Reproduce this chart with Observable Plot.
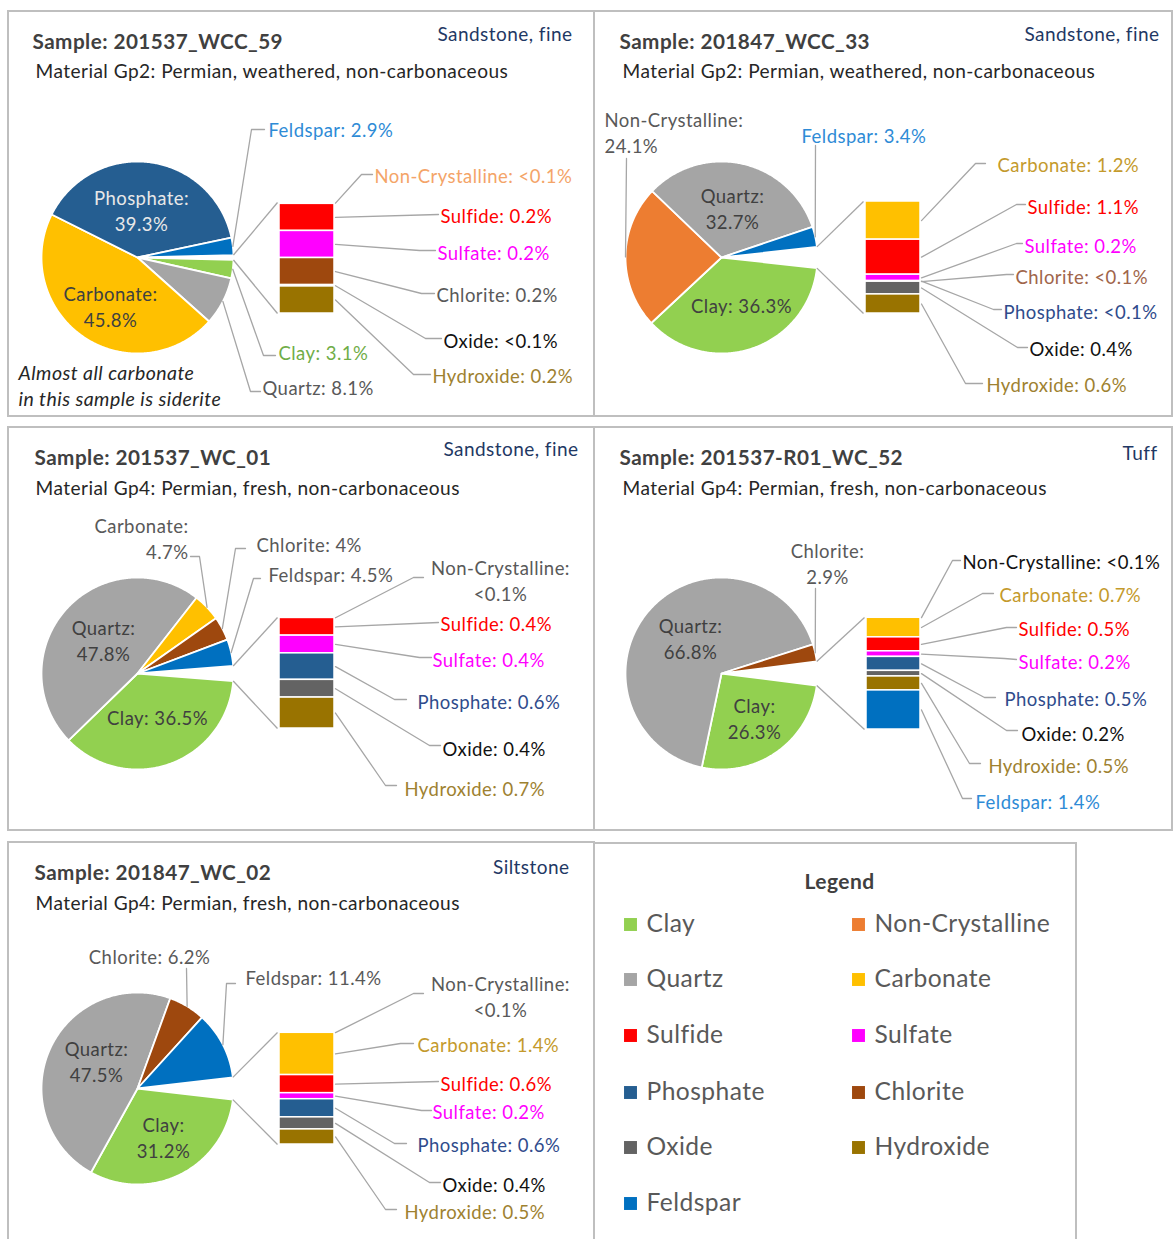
<!DOCTYPE html>
<html><head><meta charset="utf-8">
<script src="https://cdn.jsdelivr.net/npm/d3@7"></script>
<script src="https://cdn.jsdelivr.net/npm/@observablehq/plot@0.6"></script>
<style>
html,body{margin:0;padding:0;background:#fff;}
#chart{width:1173px;height:1239px;overflow:hidden;}
#chart svg text{letter-spacing:0.45px;}
</style></head><body><div id="chart"></div>
<script>
// ---------------- DATA ----------------
const minerals = ["Clay","Non-Crystalline","Quartz","Carbonate","Sulfide","Sulfate","Phosphate","Chlorite","Oxide","Hydroxide","Feldspar"];
const mineralColors = ["#92D050","#ED7D31","#A5A5A5","#FFC000","#FF0000","#FF00FF","#255E91","#9E480E","#636363","#997300","#0070C0"];

const sampleIds = ["201537_WCC_59","201847_WCC_33","201537_WC_01","201537-R01_WC_52","201847_WC_02"];
const materialGroups = [
  "Material Gp2: Permian, weathered, non-carbonaceous",
  "Material Gp2: Permian, weathered, non-carbonaceous",
  "Material Gp4: Permian, fresh, non-carbonaceous",
  "Material Gp4: Permian, fresh, non-carbonaceous",
  "Material Gp4: Permian, fresh, non-carbonaceous"];
const lithologies = ["Sandstone, fine","Sandstone, fine","Sandstone, fine","Tuff","Siltstone"];

// percentages in mineral order ("<0.1%" read as 0.01)
const pct1 = [3.1, 0.01, 8.1, 45.8, 0.2, 0.2, 39.3, 0.2, 0.01, 0.2, 2.9];
const pct2 = [36.3, 24.1, 32.7, 1.2, 1.1, 0.2, 0.01, 0.01, 0.4, 0.6, 3.4];
const pct3 = [36.5, 0.01, 47.8, 4.7, 0.4, 0.4, 0.6, 4.0, 0.4, 0.7, 4.5];
const pct4 = [26.3, 0.01, 66.8, 0.7, 0.5, 0.2, 0.5, 2.9, 0.2, 0.5, 1.4];
const pct5 = [31.2, 0.01, 47.5, 1.4, 0.6, 0.2, 0.6, 6.2, 0.4, 0.5, 11.4];
// printed value labels
const lab1 = ["3.1%","<0.1%","8.1%","45.8%","0.2%","0.2%","39.3%","0.2%","<0.1%","0.2%","2.9%"];
const lab2 = ["36.3%","24.1%","32.7%","1.2%","1.1%","0.2%","<0.1%","<0.1%","0.4%","0.6%","3.4%"];
const lab3 = ["36.5%","<0.1%","47.8%","4.7%","0.4%","0.4%","0.6%","4%","0.4%","0.7%","4.5%"];
const lab4 = ["26.3%","<0.1%","66.8%","0.7%","0.5%","0.2%","0.5%","2.9%","0.2%","0.5%","1.4%"];
const lab5 = ["31.2%","<0.1%","47.5%","1.4%","0.6%","0.2%","0.6%","6.2%","0.4%","0.5%","11.4%"];
// 1 = mineral shown in the secondary bar
const bar1 = [0,1,0,0,1,1,0,1,1,1,0];
const bar2 = [0,0,0,1,1,1,1,1,1,1,0];
const bar3 = [0,1,0,0,1,1,1,0,1,1,0];
const bar4 = [0,1,0,1,1,1,1,0,1,1,1];
const bar5 = [0,1,0,1,1,1,1,0,1,1,0];
const noteLines = ["Almost all carbonate","in this sample is siderite"];
const legendTitle = "Legend";

// ---------------- LAYOUT / STYLE ----------------
const W = 1173, H = 1239;
const panelFrames = [[8,11,594,416],[594,11,1172,416],[8,427,594,830],[594,427,1172,830],[8,842,594,1252],[594,843,1076,1252]];
const pieCenters = [[137,257],[721,257],[137,673],[721,673],[137,1088]];
const pieRadius = 96;
const barFrames = [[279,202,334,313],[865,201,920,313],[279,617,334,728],[866,617,920,729],[279,1032,334,1144]];
const titlePos = [[32,42],[619,42],[34,458],[619,458],[34,873]];
const materialPos = [[35,71],[622,71],[35,488],[622,488],[35,903]];
const lithologyPos = [[572,34],[1159,34],[578,449],[1157,453],[569,867]];
const notePos = [[18,373],[18,399]];

const GRAY="#595959", DARK="#404040", BLACK="#111111", BLUE="#2E8BD6", ORANGE="#F4A468",
      RED="#FF0000", MAGENTA="#FF00FF", OLIVE="#9E8130", GREEN="#70AD47", GOLD="#C49A2C",
      BROWN="#A0654A", NAVY="#2F4B8C";

// [mineral, x, y, anchor, twoLines, colour, leader elbows (pie/bar side -> label side)]
const labels1 = [
  ["Phosphate",141,209,"middle",true,"#E8E8E8",null],
  ["Carbonate",110,305,"middle",true,DARK,null],
  ["Feldspar",268,128,"start",false,BLUE,[[251,129],[264,129]]],
  ["Non-Crystalline",374,174,"start",false,ORANGE,[[361,174],[372,174]]],
  ["Sulfide",440,214,"start",false,RED,[[438,214]]],
  ["Sulfate",437,251,"start",false,MAGENTA,[[419,250],[435,250]]],
  ["Chlorite",436,293,"start",false,GRAY,[[421,293],[434,293]]],
  ["Oxide",443,339,"start",false,BLACK,[[425,338],[441,338]]],
  ["Hydroxide",432,374,"start",false,OLIVE,[[413,374],[430,374]]],
  ["Clay",278,351,"start",false,GREEN,[[263,355],[275,355]]],
  ["Quartz",262,386,"start",false,GRAY,[[250,391],[260,391]]]
];
const labels2 = [
  ["Quartz",732,207,"middle",true,DARK,null],
  ["Clay",741,304,"middle",false,DARK,null],
  ["Non-Crystalline",604,131,"start",true,GRAY,[[626,158]]],
  ["Feldspar",801,134,"start",false,BLUE,[[815,145]]],
  ["Carbonate",997,163,"start",false,GOLD,[[975,163],[985,163]]],
  ["Sulfide",1027,205,"start",false,RED,[[1016,204],[1025,204]]],
  ["Sulfate",1024,244,"start",false,MAGENTA,[[1016,243],[1022,243]]],
  ["Chlorite",1015,275,"start",false,BROWN,[[1006,274],[1013,274]]],
  ["Phosphate",1003,310,"start",false,NAVY,[[993,309],[1001,309]]],
  ["Oxide",1029,347,"start",false,BLACK,[[1017,347],[1027,347]]],
  ["Hydroxide",986,383,"start",false,OLIVE,[[965,383],[982,383]]]
];
const labels3 = [
  ["Quartz",103,639,"middle",true,DARK,null],
  ["Clay",157,716,"middle",false,DARK,null],
  ["Carbonate",188,537,"end",true,GRAY,[[199,556],[190,556]]],
  ["Chlorite",256,543,"start",false,GRAY,[[235,548],[245,548]]],
  ["Feldspar",268,573,"start",false,GRAY,[[253,578],[260,578]]],
  ["Non-Crystalline",500,579,"middle",true,GRAY,[[413,577],[423,577]]],
  ["Sulfide",440,622,"start",false,RED,[[438,622]]],
  ["Sulfate",432,658,"start",false,MAGENTA,[[419,657],[431,657]]],
  ["Phosphate",417,700,"start",false,NAVY,[[394,699],[406,699]]],
  ["Oxide",442,747,"start",false,BLACK,[[429,745],[440,745]]],
  ["Hydroxide",404,787,"start",false,OLIVE,[[385,785],[396,785]]]
];
const labels4 = [
  ["Quartz",690,637,"middle",true,DARK,null],
  ["Clay",754,717,"middle",true,DARK,null],
  ["Chlorite",827,562,"middle",true,GRAY,[[815,588]]],
  ["Non-Crystalline",962,560,"start",false,BLACK,[[952,560],[960,560]]],
  ["Carbonate",999,593,"start",false,GOLD,[[982,593],[993,593]]],
  ["Sulfide",1018,627,"start",false,RED,[[1006,627],[1016,627]]],
  ["Sulfate",1018,660,"start",false,MAGENTA,[[1004,658],[1016,659]]],
  ["Phosphate",1004,697,"start",false,NAVY,[[984,697],[995,697]]],
  ["Oxide",1021,732,"start",false,BLACK,[[1006,730],[1017,730]]],
  ["Hydroxide",988,764,"start",false,OLIVE,[[969,763],[980,763]]],
  ["Feldspar",975,800,"start",false,BLUE,[[962,798],[971,798]]]
];
const labels5 = [
  ["Quartz",96,1060,"middle",true,DARK,null],
  ["Clay",163,1136,"middle",true,DARK,null],
  ["Chlorite",149,955,"middle",false,GRAY,[[186,968]]],
  ["Feldspar",245,976,"start",false,GRAY,[[226,983],[235,983]]],
  ["Non-Crystalline",500,995,"middle",true,GRAY,[[413,993],[423,993]]],
  ["Carbonate",417,1043,"start",false,GOLD,[[400,1043],[413,1043]]],
  ["Sulfide",440,1082,"start",false,RED,[[438,1081]]],
  ["Sulfate",432,1110,"start",false,MAGENTA,[[421,1110],[431,1110]]],
  ["Phosphate",417,1143,"start",false,NAVY,[[394,1143],[406,1143]]],
  ["Oxide",442,1183,"start",false,BLACK,[[429,1182],[440,1182]]],
  ["Hydroxide",404,1210,"start",false,OLIVE,[[385,1209],[396,1209]]]
];
const legendTitlePos = [839,882];
const legendCols = [[630,646],[858,874]];
const legendRows = [924,979,1035,1092,1147,1203];

// ---------------- BUILD ----------------
const pctAll = [pct1,pct2,pct3,pct4,pct5];
const labAll = [lab1,lab2,lab3,lab4,lab5];
const barAll = [bar1,bar2,bar3,bar4,bar5];
const labelsAll = [labels1,labels2,labels3,labels4,labels5];

const sliceRows = [], barRows = [], connRows = [], leaderRows = [], textRows = [];
const anchorPoint = {};

pctAll.forEach((pct, p) => {
  const bar = barAll[p];
  const [cx, cy] = pieCenters[p];
  const r = pieRadius;
  const total = d3.sum(pct);
  const other = d3.sum(pct.filter((v,i) => bar[i]));
  const g = other / total * 2 * Math.PI;
  let a = g / 2;
  pct.forEach((v, i) => {
    if (bar[i]) return;
    const a0 = a, a1 = a + v / total * 2 * Math.PI;
    a = a1;
    const key = p + "|" + minerals[i];
    sliceRows.push({key, x: cx, y: cy, fill: mineralColors[i]});
    const n = Math.max(2, Math.ceil((a1 - a0) / 0.01));
    for (let k = 0; k <= n; k++) {
      const t = a0 + (a1 - a0) * k / n;
      sliceRows.push({key, x: cx + r * Math.cos(t), y: cy + r * Math.sin(t), fill: mineralColors[i]});
    }
    const am = (a0 + a1) / 2;
    anchorPoint[key] = [cx + r * Math.cos(am), cy + r * Math.sin(am)];
  });
  const [bx1, by1, bx2, by2] = barFrames[p];
  let cum = 0;
  pct.forEach((v, i) => {
    if (!bar[i]) return;
    const y1 = by1 + cum / other * (by2 - by1);
    cum += v;
    const y2 = by1 + cum / other * (by2 - by1);
    barRows.push({x1: bx1, x2: bx2, y1, y2, fill: mineralColors[i]});
    anchorPoint[p + "|" + minerals[i]] = [bx2 + 1, (y1 + y2) / 2];
  });
  connRows.push({x1: cx + r * Math.cos(-g/2), y1: cy + r * Math.sin(-g/2), x2: bx1 - 2, y2: by1});
  connRows.push({x1: cx + r * Math.cos(g/2), y1: cy + r * Math.sin(g/2), x2: bx1 - 2, y2: by2});

  labelsAll[p].forEach(([m, x, y, anchor, two, color, elbows]) => {
    const i = minerals.indexOf(m);
    const text = m + ":" + (two ? "\n" : " ") + labAll[p][i];
    textRows.push({x, y, text, anchor, color});
    if (elbows) {
      const key = p + "|" + m;
      const pts = [anchorPoint[key], ...elbows];
      pts.forEach(([lx, ly]) => leaderRows.push({key, x: lx, y: ly}));
    }
  });
});

const headRows = [], boldRows = [], lithRows = [];
sampleIds.forEach((s, p) => {
  boldRows.push({x: titlePos[p][0], y: titlePos[p][1], text: "Sample: " + s});
  headRows.push({x: materialPos[p][0], y: materialPos[p][1], text: materialGroups[p]});
  lithRows.push({x: lithologyPos[p][0], y: lithologyPos[p][1], text: lithologies[p]});
});
const noteRows = noteLines.map((t, k) => ({x: notePos[k][0], y: notePos[k][1], text: t}));
const frameRows = panelFrames.map(([x1,y1,x2,y2]) => ({x1,y1,x2,y2}));
const legendRowsData = minerals.map((m, k) => ({
  m, color: mineralColors[k],
  mx: legendCols[k % 2][0], tx: legendCols[k % 2][1], y: legendRows[Math.floor(k / 2)]
}));

const FONT = "Lato, 'Open Sans', sans-serif";
const LABEL_SIZE = 18.5;
const textMark = (anchor) => Plot.text(textRows.filter(d => d.anchor === anchor), {
  x: "x", y: "y", text: "text", fill: "color", textAnchor: anchor, fontSize: LABEL_SIZE, lineHeight: 1.4
});

const chart = Plot.plot({
  width: W, height: H, margin: 0,
  x: {domain: [0, W], range: [0, W], axis: null},
  y: {domain: [0, H], range: [0, H], axis: null},
  color: {type: "identity"},
  style: {background: "white", fontFamily: FONT},
  marks: [
    Plot.rect(frameRows, {x1: "x1", x2: "x2", y1: "y1", y2: "y2", fill: "none", stroke: "#BFBFBF", strokeWidth: 2}),
    Plot.line(sliceRows, {x: "x", y: "y", z: "key", fill: "fill", stroke: "white", strokeWidth: 1.8, curve: "linear-closed"}),
    Plot.rect(barRows, {x1: "x1", x2: "x2", y1: "y1", y2: "y2", fill: "fill", stroke: "white", strokeWidth: 1.5}),
    Plot.link(connRows, {x1: "x1", y1: "y1", x2: "x2", y2: "y2", stroke: "#A6A6A6", strokeWidth: 1.3}),
    Plot.line(leaderRows, {x: "x", y: "y", z: "key", stroke: "#A6A6A6", strokeWidth: 1.3}),
    textMark("start"), textMark("middle"), textMark("end"),
    Plot.text(boldRows, {x: "x", y: "y", text: "text", textAnchor: "start", fontWeight: "bold", fontSize: 20.7, fill: DARK}),
    Plot.text(headRows, {x: "x", y: "y", text: "text", textAnchor: "start", fontSize: 19.1, fill: "#262626"}),
    Plot.text(lithRows, {x: "x", y: "y", text: "text", textAnchor: "end", fontSize: 19, fill: "#1F3864"}),
    Plot.text(noteRows, {x: "x", y: "y", text: "text", textAnchor: "start", fontStyle: "italic", fontSize: 19.5, fill: "#262626"}),
    Plot.text([legendTitle], {x: legendTitlePos[0], y: legendTitlePos[1], text: d => d, fontWeight: "bold", fontSize: 21, fill: DARK}),
    Plot.dot(legendRowsData, {x: "mx", y: "y", symbol: "square", r: 7.3, fill: "color", stroke: null}),
    Plot.text(legendRowsData, {x: "tx", y: "y", text: "m", textAnchor: "start", fontSize: 24.6, fill: GRAY})
  ]
});
document.getElementById("chart").appendChild(chart);
</script></body></html>
